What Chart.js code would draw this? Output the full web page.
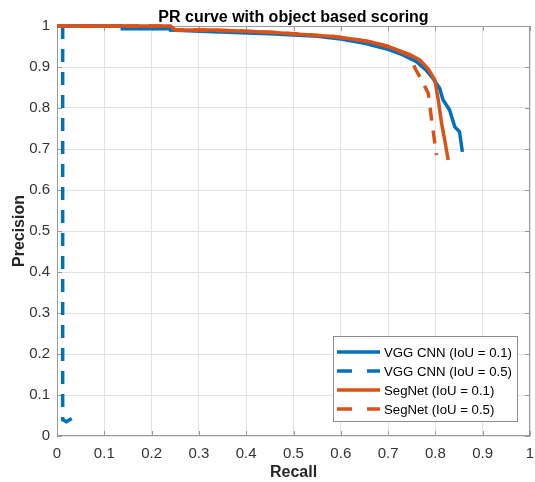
<!DOCTYPE html>
<html>
<head>
    <title>PR curve with object based scoring</title>
    <script src="https://cdn.jsdelivr.net/npm/chart.js"></script>
    <style>
        html, body { margin: 0; padding: 0; background: #fff; }
        canvas { display: block; }
    </style>
</head>
<body>
    <canvas id="prChart" width="535" height="482"></canvas>

    <script>
        // ------------- Data -------------
        const xTicks = [0, 0.1, 0.2, 0.3, 0.4, 0.5, 0.6, 0.7, 0.8, 0.9, 1];
        const yTicks = [0, 0.1, 0.2, 0.3, 0.4, 0.5, 0.6, 0.7, 0.8, 0.9, 1];

        const seriesLabels = ['VGG CNN (IoU = 0.1)', 'VGG CNN (IoU = 0.5)', 'SegNet (IoU = 0.1)', 'SegNet (IoU = 0.5)'];

        const vgg01Recall = [0, 0.138, 0.138, 0.24, 0.24, 0.33, 0.45, 0.55, 0.6, 0.65, 0.7, 0.73, 0.76, 0.78, 0.795, 0.809, 0.816, 0.83, 0.841, 0.851, 0.857];
        const vgg01Precision = [1, 1, 0.993, 0.993, 0.99, 0.986, 0.981, 0.975, 0.968, 0.958, 0.943, 0.93, 0.913, 0.893, 0.872, 0.848, 0.82, 0.795, 0.754, 0.742, 0.693];

        const vgg05Recall = [0.012, 0.012, 0.02, 0.035];
        const vgg05Precision = [1, 0.04, 0.035, 0.045];

        const seg01Recall = [0, 0.24, 0.25, 0.33, 0.45, 0.59, 0.66, 0.7, 0.746, 0.767, 0.785, 0.799, 0.806, 0.813, 0.82, 0.827];
        const seg01Precision = [1, 1, 0.99, 0.99, 0.985, 0.974, 0.962, 0.95, 0.93, 0.917, 0.895, 0.868, 0.82, 0.763, 0.72, 0.673];

        const seg05Recall = [0, 0.24, 0.25, 0.33, 0.45, 0.59, 0.66, 0.7, 0.746, 0.757, 0.77, 0.785, 0.792, 0.797, 0.802];
        const seg05Precision = [1, 1, 0.99, 0.99, 0.985, 0.974, 0.962, 0.95, 0.928, 0.897, 0.87, 0.836, 0.771, 0.73, 0.685];

        const blue = '#0072BD';
        const orange = '#D95319';
        const fontFamily = '"Liberation Sans", Arial, Helvetica, sans-serif';

        function toPoints(xs, ys) {
            return xs.map((x, i) => ({ x: x, y: ys[i] }));
        }

        // ------------- MATLAB-ish axes box, inner ticks, title, legend -------------
        const matlabAxes = {
            id: 'matlabAxes',
            beforeDatasetsDraw(chart) {
                const { ctx, chartArea: a, scales } = chart;
                ctx.save();
                ctx.strokeStyle = '#9a9a9a';
                ctx.lineWidth = 1;
                ctx.strokeRect(a.left + 0.5, a.top + 0.5, a.right - a.left - 1, a.bottom - a.top - 1);
                ctx.beginPath();
                xTicks.forEach(v => {
                    const px = Math.round(scales.x.getPixelForValue(v)) + 0.5;
                    ctx.moveTo(px, a.bottom); ctx.lineTo(px, a.bottom - 5);
                    ctx.moveTo(px, a.top); ctx.lineTo(px, a.top + 5);
                });
                yTicks.forEach(v => {
                    const py = Math.round(scales.y.getPixelForValue(v)) + 0.5;
                    ctx.moveTo(a.left, py); ctx.lineTo(a.left + 5, py);
                    ctx.moveTo(a.right, py); ctx.lineTo(a.right - 5, py);
                });
                ctx.stroke();
                ctx.restore();
            },
            afterDraw(chart) {
                const { ctx, chartArea: a } = chart;
                ctx.save();

                // title
                ctx.fillStyle = '#000';
                ctx.font = 'bold 16px ' + fontFamily;
                ctx.textAlign = 'center';
                ctx.textBaseline = 'alphabetic';
                ctx.fillText('PR curve with object based scoring', (a.left + a.right) / 2, 22);

                // legend box
                const lw = 184, lh = 85;
                const lx = a.right - 13 - lw;
                const ly = a.bottom - 15 - lh;
                ctx.fillStyle = '#fff';
                ctx.fillRect(lx, ly, lw, lh);
                ctx.strokeStyle = '#8c8c8c';
                ctx.lineWidth = 1;
                ctx.strokeRect(lx + 0.5, ly + 0.5, lw, lh);

                ctx.font = '13.2px ' + fontFamily;
                ctx.textAlign = 'left';
                ctx.textBaseline = 'middle';
                chart.data.datasets.forEach((ds, i) => {
                    const cy = ly + 16 + i * 19;
                    ctx.beginPath();
                    ctx.strokeStyle = ds.borderColor;
                    ctx.lineWidth = 3.5;
                    ctx.setLineDash(ds.borderDash.length ? [15, 15] : []);
                    ctx.moveTo(lx + 4, cy);
                    ctx.lineTo(lx + 47, cy);
                    ctx.stroke();
                    ctx.setLineDash([]);
                    ctx.fillStyle = '#000';
                    ctx.fillText(ds.label, lx + 51, cy + 1);
                });
                ctx.restore();
            }
        };

        // ------------- Chart -------------
        const prCtx = document.getElementById('prChart').getContext('2d');
        const prChart = new Chart(prCtx, {
            type: 'scatter',
            data: {
                datasets: [
                    {
                        label: seriesLabels[0],
                        data: toPoints(vgg01Recall, vgg01Precision),
                        borderColor: blue,
                        borderDash: [],
                        order: 2
                    },
                    {
                        label: seriesLabels[1],
                        data: toPoints(vgg05Recall, vgg05Precision),
                        borderColor: blue,
                        borderDash: [13, 10],
                        order: 3
                    },
                    {
                        label: seriesLabels[2],
                        data: toPoints(seg01Recall, seg01Precision),
                        borderColor: orange,
                        borderDash: [],
                        order: 0
                    },
                    {
                        label: seriesLabels[3],
                        data: toPoints(seg05Recall, seg05Precision),
                        borderColor: orange,
                        borderDash: [13, 10],
                        order: 1
                    }
                ].map(ds => Object.assign(ds, {
                    showLine: true,
                    pointRadius: 0,
                    borderWidth: 3.5,
                    tension: 0,
                    fill: false,
                    clip: 6
                }))
            },
            options: {
                responsive: false,
                animation: false,
                devicePixelRatio: 1,
                layout: {
                    padding: { top: 26, right: 5, left: 0, bottom: 0 }
                },
                scales: {
                    x: {
                        type: 'linear',
                        min: 0,
                        max: 1,
                        afterBuildTicks: scale => { scale.ticks = xTicks.map(v => ({ value: v })); },
                        afterFit: scale => {
                            scale.height = 46;
                            scale.paddingLeft = 0;
                            scale.paddingRight = 0;
                        },
                        ticks: {
                            padding: 9,
                            color: '#333',
                            font: { family: fontFamily, size: 15 },
                            maxRotation: 0,
                            callback: v => String(+v.toFixed(1))
                        },
                        grid: { color: '#e3e3e3', drawTicks: false },
                        border: { display: false },
                        title: {
                            display: true,
                            text: 'Recall',
                            color: '#262626',
                            padding: { top: 0, bottom: 0 },
                            font: { family: fontFamily, size: 16, weight: 'bold' }
                        }
                    },
                    y: {
                        type: 'linear',
                        min: 0,
                        max: 1,
                        afterBuildTicks: scale => { scale.ticks = yTicks.map(v => ({ value: v })); },
                        afterFit: scale => { scale.width = 57; },
                        ticks: {
                            padding: 7,
                            color: '#333',
                            font: { family: fontFamily, size: 15 },
                            callback: v => String(+v.toFixed(1))
                        },
                        grid: { color: '#e3e3e3', drawTicks: false },
                        border: { display: false },
                        title: {
                            display: true,
                            text: 'Precision',
                            color: '#262626',
                            padding: { top: 10, bottom: 0 },
                            font: { family: fontFamily, size: 16, weight: 'bold' }
                        }
                    }
                },
                plugins: {
                    legend: { display: false },
                    title: { display: false },
                    tooltip: { enabled: false }
                }
            },
            plugins: [matlabAxes]
        });
    </script>
</body>
</html>
